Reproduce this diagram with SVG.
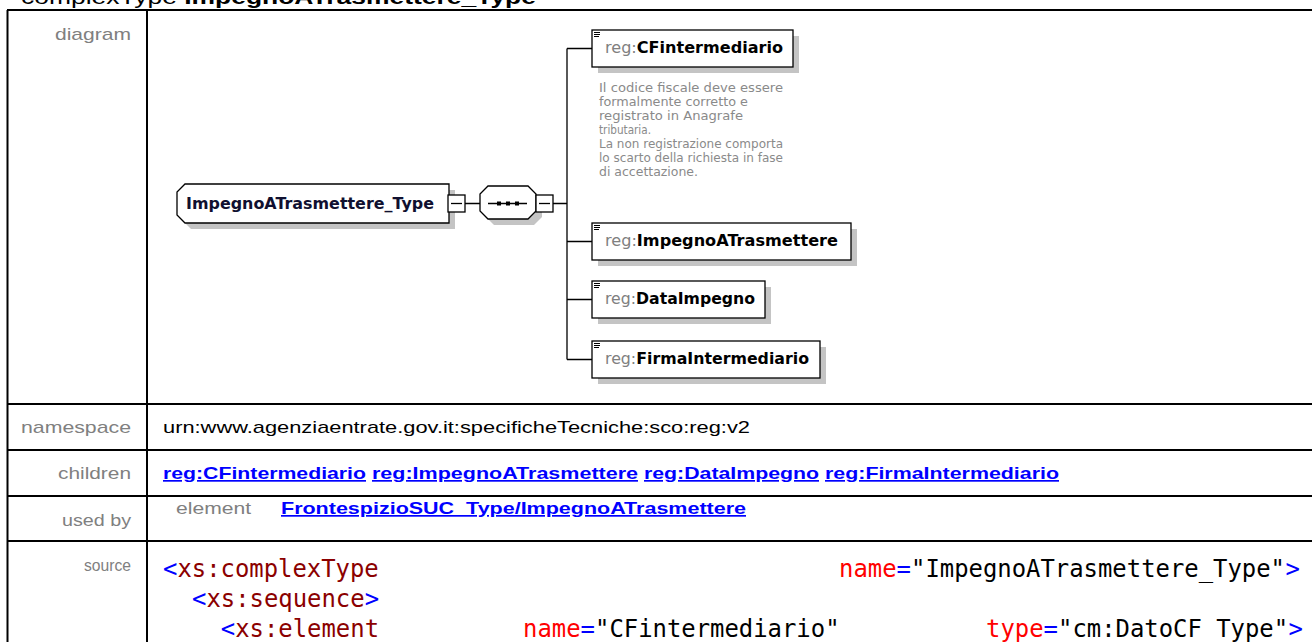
<svg xmlns="http://www.w3.org/2000/svg" width="1312" height="642" viewBox="0 0 1312 642">
<defs>
<style>
.tl{font-family:"Liberation Sans",Arial,sans-serif;font-size:17px;fill:#808080;text-anchor:end}
.tv{font-family:"Liberation Sans",Arial,sans-serif;font-size:17px;fill:#000}
.lk{font-family:"Liberation Sans",Arial,sans-serif;font-size:17px;font-weight:bold;fill:#0000FF;text-decoration:underline}
.grid{stroke:#000;stroke-width:2;fill:none}
.code{font-family:"DejaVu Sans Mono","Liberation Mono",monospace;font-size:23.9px}
.bl{fill:#0000FF}.el{fill:#8B0000}.at{fill:#FF0000}.vl{fill:#000}
.box{fill:#fff;stroke:#000;stroke-width:1.3}
.sh{fill:#C4C4C4}
.con{stroke:#000;stroke-width:1.3;fill:none}
.nl{font-family:"DejaVu Sans",Verdana,sans-serif;font-size:15.5px}
.pre{fill:#808080}
.nm{font-weight:bold;fill:#000}
.ann{font-family:"DejaVu Sans",Verdana,sans-serif;font-size:11.5px;fill:#8a8a8a}
</style>
</defs>
<rect width="1312" height="642" fill="#fff"/>
<text x="21" y="4" font-family="Liberation Sans,Arial,sans-serif" font-size="20" textLength="515" lengthAdjust="spacingAndGlyphs">complexType <tspan font-weight="bold">ImpegnoATrasmettere_Type</tspan></text>
<g id="table">
<path class="grid" d="M7,10H1312M7.5,10V642M147,10V642M7,404H1312M7,450H1312M7,496H1312M7,541H1312"/>
<text class="tl" x="131" y="40" textLength="76" lengthAdjust="spacingAndGlyphs">diagram</text>
<text class="tl" x="131" y="433" textLength="110" lengthAdjust="spacingAndGlyphs">namespace</text>
<text class="tl" x="131" y="479" textLength="73" lengthAdjust="spacingAndGlyphs">children</text>
<text class="tl" x="131" y="526" textLength="69" lengthAdjust="spacingAndGlyphs">used by</text>
<text class="tl" x="131" y="571" font-size="14" textLength="47" lengthAdjust="spacingAndGlyphs">source</text>
<text class="tv" x="163" y="433" textLength="587" lengthAdjust="spacingAndGlyphs">urn:www.agenziaentrate.gov.it:specificheTecniche:sco:reg:v2</text>
<text class="lk" x="163" y="479" textLength="203" lengthAdjust="spacingAndGlyphs">reg:CFintermediario</text>
<text class="lk" x="372" y="479" textLength="266" lengthAdjust="spacingAndGlyphs">reg:ImpegnoATrasmettere</text>
<text class="lk" x="644" y="479" textLength="175" lengthAdjust="spacingAndGlyphs">reg:DataImpegno</text>
<text class="lk" x="825" y="479" textLength="234" lengthAdjust="spacingAndGlyphs">reg:FirmaIntermediario</text>
<text class="tl" x="176" y="514" style="text-anchor:start" textLength="75" lengthAdjust="spacingAndGlyphs">element</text>
<text class="lk" x="281" y="514" textLength="465" lengthAdjust="spacingAndGlyphs">FrontespizioSUC_Type/ImpegnoATrasmettere</text>
<g class="code">
<text y="577"><tspan class="bl" x="163">&lt;</tspan><tspan class="el" x="177.4">xs:complexType</tspan><tspan class="at" x="839">name</tspan><tspan class="bl" x="896.6">=</tspan><tspan class="vl" x="911">"ImpegnoATrasmettere_Type"</tspan><tspan class="bl" x="1285.4">&gt;</tspan></text>
<text y="607"><tspan class="bl" x="192">&lt;</tspan><tspan class="el" x="206.4">xs:sequence</tspan><tspan class="bl" x="364.8">&gt;</tspan></text>
<text y="637"><tspan class="bl" x="220.8">&lt;</tspan><tspan class="el" x="235.2">xs:element</tspan><tspan class="at" x="523">name</tspan><tspan class="bl" x="580.6">=</tspan><tspan class="vl" x="595">"CFintermediario"</tspan><tspan class="at" x="986">type</tspan><tspan class="bl" x="1043.6">=</tspan><tspan class="vl" x="1058">"cm:DatoCF_Type"</tspan><tspan class="bl" x="1288.4">&gt;</tspan></text>
</g>
</g>
<g id="connectors">
<path class="con" d="M465,203.5H480M553,203.5H567M567,48.5V359.5M567,48.5H592M567,241.5H592M567,299.5H592M567,359.5H592"/>
</g>
<g id="node-root">
<polygon class="sh" points="191,190 455,190 455,229 191,229 183,221 183,198"/>
<polygon class="box" points="185,184 449,184 449,223 185,223 177,215 177,192"/>
<text x="186" y="209" font-family="DejaVu Sans,Verdana,sans-serif" font-size="15.5" font-weight="bold" fill="#101030" textLength="248" lengthAdjust="spacingAndGlyphs">ImpegnoATrasmettere_Type</text>
<rect class="box" x="448" y="195" width="17" height="17"/>
<path class="con" d="M451,203.5H462"/>
</g>
<g id="node-sequence">
<polygon class="sh" points="494,192 534,192 542,200 542,217 534,225 494,225 486,217 486,200"/>
<polygon class="box" points="488,186 528,186 536,194 536,211 528,219 488,219 480,211 480,194"/>
<path class="con" d="M488,203.5H527"/>
<rect x="497" y="201.5" width="4" height="4" fill="#000"/>
<rect x="506" y="201.5" width="4" height="4" fill="#000"/>
<rect x="515" y="201.5" width="4" height="4" fill="#000"/>
<rect class="box" x="536" y="195" width="17" height="17"/>
<path class="con" d="M539,203.5H550"/>
</g>
<g id="node-CFintermediario">
<rect class="sh" x="598" y="36" width="201" height="37"/>
<rect class="box" x="592" y="30" width="201" height="37"/>
<path stroke="#000" stroke-width="1" d="M594,32.5H600M594,34.5H600M594,36.5H599"/>
<text class="nl" x="605" y="53" textLength="178" lengthAdjust="spacingAndGlyphs"><tspan class="pre">reg:</tspan><tspan class="nm">CFintermediario</tspan></text>
<text class="ann" x="599"><tspan x="599" y="91.5" textLength="184" lengthAdjust="spacingAndGlyphs">Il codice fiscale deve essere</tspan><tspan x="599" y="105.5" textLength="149" lengthAdjust="spacingAndGlyphs">formalmente corretto e</tspan><tspan x="599" y="119.5" textLength="144" lengthAdjust="spacingAndGlyphs">registrato in Anagrafe</tspan><tspan x="599" y="133.5" textLength="52" lengthAdjust="spacingAndGlyphs">tributaria.</tspan><tspan x="599" y="147.5" textLength="184" lengthAdjust="spacingAndGlyphs">La non registrazione comporta</tspan><tspan x="599" y="161.5" textLength="184" lengthAdjust="spacingAndGlyphs">lo scarto della richiesta in fase</tspan><tspan x="599" y="175.5" textLength="99" lengthAdjust="spacingAndGlyphs">di accettazione.</tspan></text>
</g>
<g id="node-ImpegnoATrasmettere">
<rect class="sh" x="598" y="229" width="259" height="37"/>
<rect class="box" x="592" y="223" width="259" height="37"/>
<path stroke="#000" stroke-width="1" d="M594,225.5H600M594,227.5H600M594,229.5H599"/>
<text class="nl" x="605" y="246" textLength="233" lengthAdjust="spacingAndGlyphs"><tspan class="pre">reg:</tspan><tspan class="nm">ImpegnoATrasmettere</tspan></text>
</g>
<g id="node-DataImpegno">
<rect class="sh" x="598" y="287" width="173" height="37"/>
<rect class="box" x="592" y="281" width="173" height="37"/>
<path stroke="#000" stroke-width="1" d="M594,283.5H600M594,285.5H600M594,287.5H599"/>
<text class="nl" x="605" y="304" textLength="150" lengthAdjust="spacingAndGlyphs"><tspan class="pre">reg:</tspan><tspan class="nm">DataImpegno</tspan></text>
</g>
<g id="node-FirmaIntermediario">
<rect class="sh" x="598" y="347" width="228" height="37"/>
<rect class="box" x="592" y="341" width="228" height="37"/>
<path stroke="#000" stroke-width="1" d="M594,343.5H600M594,345.5H600M594,347.5H599"/>
<text class="nl" x="605" y="364" textLength="204" lengthAdjust="spacingAndGlyphs"><tspan class="pre">reg:</tspan><tspan class="nm">FirmaIntermediario</tspan></text>
</g>
</svg>
